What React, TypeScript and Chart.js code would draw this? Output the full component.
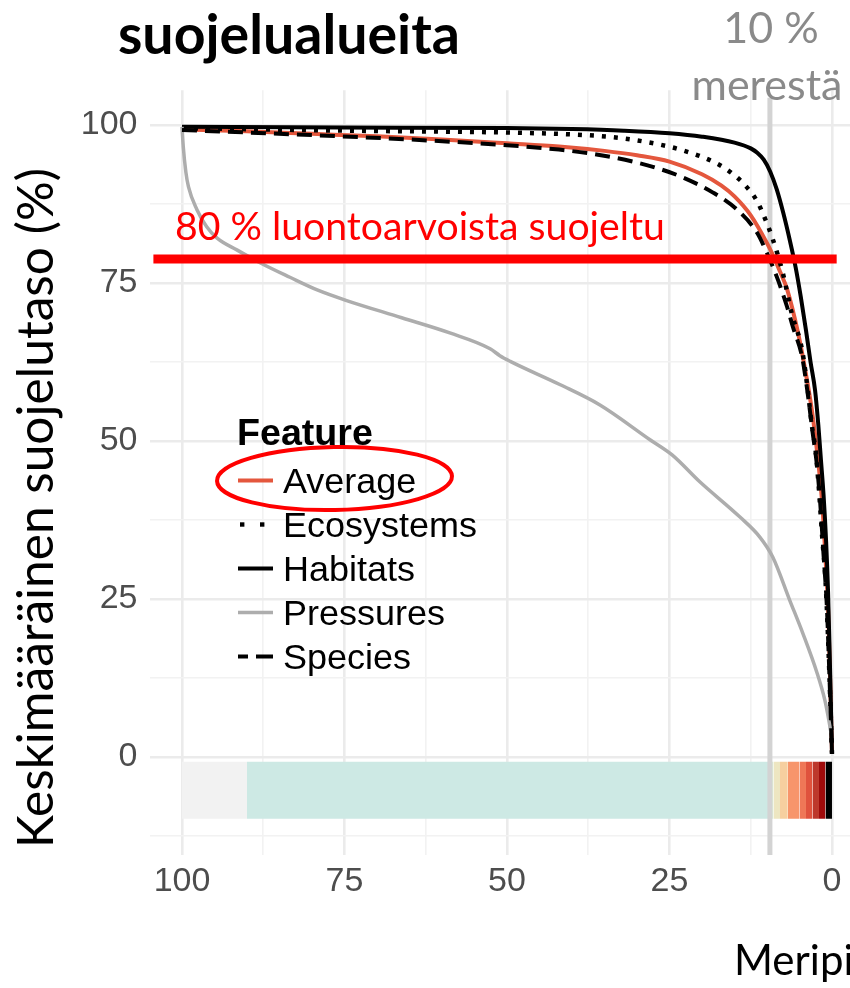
import React, { useEffect, useRef } from 'react';
import { Chart, registerables } from 'chart.js';

Chart.register(...registerables);

// ---------- data ----------
const seriesNames = ['Average', 'Ecosystems', 'Habitats', 'Pressures', 'Species'];

const averageX = [100, 90, 80, 70, 60, 50, 42, 35, 30, 25, 20, 17, 15, 12.5, 10, 9, 8, 6.9, 5.2, 4.2, 3.1, 2.1, 1.5, 1.0, 0.6, 0.3, 0];
const averageY = [99.3, 99.0, 98.6, 98.2, 97.7, 97.1, 96.6, 95.9, 95.2, 94.2, 92.2, 90.4, 88.7, 85.7, 81.3, 79.2, 76.8, 74.0, 67, 61.7, 54.9, 46.5, 40.0, 31.5, 23.5, 13, 0.5];

const ecosystemsX = [100, 75, 50, 40, 34, 28.5, 23, 17.7, 15.2, 13.4, 11.5, 10.6, 9.2, 7.5, 6.2, 4.6, 3.7, 3.1, 2.5, 2.0, 1.45, 1.1, 0.8, 0.4, 0];
const ecosystemsY = [99.5, 99.1, 98.8, 98.5, 98.1, 97.3, 96.0, 93.9, 92.2, 90.5, 87.9, 85.9, 82.2, 76.3, 70.2, 64.4, 57.8, 52.5, 48.3, 42.2, 34.0, 29.6, 23.7, 13, 0.5];

const habitatsX = [100, 75, 50, 40, 32, 25, 20, 15, 12.5, 11.5, 10.5, 9.5, 8.5, 7.5, 6.5, 5.6, 4.8, 4.0, 3.3, 2.6, 2.1, 1.7, 1.3, 0.9, 0.6, 0.3, 0];
const habitatsY = [99.7, 99.6, 99.5, 99.35, 99.1, 98.7, 98.15, 97.2, 96.3, 95.6, 94.5, 92.6, 89.8, 86.1, 81.8, 77.5, 72.8, 67.5, 62.5, 58, 52.5, 47, 41.5, 34, 26, 14, 0.5];

const pressuresX = [100, 99.8, 99.4, 99, 97.7, 96.2, 94.6, 91.5, 88, 83.4, 79.2, 74.9, 66.2, 58.8, 52.6, 51.1, 49.5, 41.8, 35.7, 28, 24.6, 20.3, 14.2, 11.1, 9.1, 6.5, 4.5, 2.3, 1.1, 0.5, 0.15];
const pressuresY = [99.7, 96.5, 92.5, 90.2, 86.6, 83.9, 82.1, 80.2, 78.2, 75.9, 73.9, 72.3, 69.5, 67.1, 64.6, 63.5, 62.6, 58.9, 55.7, 50.2, 47.8, 43.5, 38.0, 34.8, 31.6, 24.8, 19.6, 13.3, 9, 5.9, 3.8];

const speciesX = [100, 80, 65, 50, 42, 36, 30.6, 27, 23.4, 18.3, 14.6, 11.5, 10, 8.5, 6.9, 6.0, 4.6, 3.8, 3.0, 2.3, 1.8, 1.3, 0.8, 0.4, 0];
const speciesY = [99.2, 98.4, 97.7, 96.8, 96.1, 95.3, 94.2, 93.2, 91.9, 89.3, 86.6, 82.9, 79.7, 76.0, 71.2, 68.0, 63.3, 58.0, 51.5, 46, 40, 32, 24, 13, 0.5];

const xMajorTicks = [100, 75, 50, 25, 0];
const xMinorTicks = [87.5, 62.5, 37.5, 12.5];
const yMajorTicks = [100, 75, 50, 25, 0];
const yMinorTicks = [87.5, 62.5, 37.5, 12.5, -12.5];

// colour strip below the curves
const stripBreaks = [100, 90, 9.8, 9, 8, 6.8, 5, 4, 3, 2, 1, 0];
const stripColors = ['#f2f2f2', '#cde9e4', '#dcecd3', '#ede6c1', '#f6cf9f', '#f7956b', '#ef7757', '#e0523d', '#bd382c', '#a00b0b', '#000000'];
const stripTop = -0.75;
const stripBottom = -9.75;

// reference lines
const targetLevel = 78.8;
const targetLineX = [104.4, -0.72];
const seaShare = 9.55;
const seaLineY = [-15.5, 104.3];

// texts
const titleText = 'suojelualueita';
const seaText1 = '10 %';
const seaText2 = 'merestä';
const targetText = '80 % luontoarvoista suojeltu';
const yTitleText = 'Keskimääräinen suojelutaso (%)';
const xTitleText = 'Meripi';
const legendTitle = 'Feature';

// ---------- styles ----------
const seriesStyle: Record<string, { color: string; width: number; dash: number[] }> = {
  Average: { color: '#e4573d', width: 4, dash: [] },
  Ecosystems: { color: '#000000', width: 4.5, dash: [4, 8] },
  Habitats: { color: '#000000', width: 4, dash: [] },
  Pressures: { color: '#adadad', width: 3.5, dash: [] },
  Species: { color: '#000000', width: 4, dash: [15, 8] },
};
const seriesOrder: Record<string, number> = { Average: 5, Ecosystems: 4, Habitats: 3, Pressures: 2, Species: 1 };

const seriesData: Record<string, [number[], number[]]> = {
  Average: [averageX, averageY],
  Ecosystems: [ecosystemsX, ecosystemsY],
  Habitats: [habitatsX, habitatsY],
  Pressures: [pressuresX, pressuresY],
  Species: [speciesX, speciesY],
};

const TEXT_FONT = 'Lato, "Open Sans", sans-serif';
const AXIS_FONT = '"Liberation Sans", Arial, sans-serif';

function fitSize(ctx: CanvasRenderingContext2D, text: string, weight: string, family: string, target: number) {
  ctx.font = `${weight} 100px ${family}`;
  const w = ctx.measureText(text).width;
  return (100 * target) / w;
}

function drawFitted(ctx: CanvasRenderingContext2D, text: string, weight: string, family: string, target: number, x: number, y: number, color: string) {
  const size = fitSize(ctx, text, weight, family, target);
  ctx.font = `${weight} ${size}px ${family}`;
  ctx.fillStyle = color;
  ctx.textAlign = 'left';
  ctx.textBaseline = 'alphabetic';
  ctx.fillText(text, x, y);
  return size;
}

function drawCentered(ctx: CanvasRenderingContext2D, text: string, weight: string, family: string, size: number, cx: number, y: number, color: string) {
  ctx.font = `${weight} ${size}px ${family}`;
  ctx.fillStyle = color;
  ctx.textAlign = 'center';
  ctx.textBaseline = 'alphabetic';
  ctx.fillText(text, cx, y);
}

const overlayPlugin = {
  id: 'overlayTexts',
  afterDraw(chart: any) {
    const ctx: CanvasRenderingContext2D = chart.ctx;
    ctx.save();
    // title
    drawFitted(ctx, titleText, '700', TEXT_FONT, 342, 118, 54, '#000000');
    // sea share label
    drawCentered(ctx, seaText1, '400', TEXT_FONT, 43, 771, 43, '#8a8a8a');
    drawCentered(ctx, seaText2, '400', TEXT_FONT, 43, 767, 100, '#8a8a8a');
    // target label
    drawFitted(ctx, targetText, '400', TEXT_FONT, 490, 175, 240, '#ff0000');
    // y title (rotated)
    const ySize = fitSize(ctx, yTitleText, '400', TEXT_FONT, 680);
    ctx.save();
    ctx.translate(53, 848);
    ctx.rotate(-Math.PI / 2);
    ctx.font = `400 ${ySize}px ${TEXT_FONT}`;
    ctx.fillStyle = '#000000';
    ctx.textAlign = 'left';
    ctx.textBaseline = 'alphabetic';
    ctx.fillText(yTitleText, 0, 0);
    ctx.restore();
    // x title (cut at the edge)
    ctx.font = `400 42px ${TEXT_FONT}`;
    ctx.fillStyle = '#000000';
    ctx.textAlign = 'left';
    ctx.textBaseline = 'alphabetic';
    ctx.fillText(xTitleText, 734, 975);

    // legend
    drawFitted(ctx, legendTitle, '700', AXIS_FONT, 136, 237, 445, '#000000');
    const itemSize = fitSize(ctx, 'Ecosystems', '400', AXIS_FONT, 194);
    const baseY = 493;
    const step = 44;
    seriesNames.forEach((name, i) => {
      const by = baseY + i * step;
      const st = seriesStyle[name];
      ctx.font = `400 ${itemSize}px ${AXIS_FONT}`;
      ctx.fillStyle = '#000000';
      ctx.textAlign = 'left';
      ctx.textBaseline = 'alphabetic';
      ctx.fillText(name, 283, by);
      const ky = by - 12.5;
      ctx.strokeStyle = st.color;
      ctx.lineWidth = st.width;
      ctx.lineCap = 'butt';
      if (name === 'Ecosystems') {
        ctx.fillStyle = st.color;
        ctx.fillRect(240, ky - 2.2, 4.4, 4.4);
        ctx.fillRect(260, ky - 2.2, 4.4, 4.4);
      } else if (name === 'Species') {
        ctx.beginPath();
        ctx.moveTo(238, ky);
        ctx.lineTo(248, ky);
        ctx.moveTo(256, ky);
        ctx.lineTo(273, ky);
        ctx.stroke();
      } else {
        ctx.beginPath();
        ctx.moveTo(238, ky);
        ctx.lineTo(273, ky);
        ctx.stroke();
      }
    });
    // highlight ellipse
    ctx.beginPath();
    ctx.ellipse(334.5, 478.5, 117.5, 31.5, -0.02, 0, Math.PI * 2);
    ctx.strokeStyle = '#ff0000';
    ctx.lineWidth = 4;
    ctx.stroke();
    ctx.restore();
  },
};

export default function App() {
  const ref = useRef<HTMLCanvasElement | null>(null);
  useEffect(() => {
    const canvas = ref.current;
    if (!canvas) return;
    const datasets: any[] = [];
    // colour strip
    for (let i = 0; i < stripColors.length; i++) {
      datasets.push({
        label: 'strip' + i,
        data: [
          { x: stripBreaks[i], y: stripTop },
          { x: stripBreaks[i + 1], y: stripTop },
        ],
        borderWidth: 0,
        borderColor: 'rgba(0,0,0,0)',
        backgroundColor: stripColors[i],
        fill: { value: stripBottom },
        pointRadius: 0,
        order: 20,
      });
    }
    // sea share vertical line
    datasets.push({
      label: 'sea',
      data: seaLineY.map((y) => ({ x: seaShare, y })),
      borderColor: '#d3d3d3',
      borderWidth: 5,
      pointRadius: 0,
      fill: false,
      order: 10,
    });
    // series
    seriesNames.forEach((name) => {
      const [xs, ys] = seriesData[name];
      const st = seriesStyle[name];
      datasets.push({
        label: name,
        data: xs.map((x, i) => ({ x, y: ys[i] })),
        borderColor: st.color,
        borderWidth: st.width,
        borderDash: st.dash,
        cubicInterpolationMode: 'monotone',
        pointRadius: 0,
        fill: false,
        order: seriesOrder[name],
      });
    });
    // target horizontal line
    datasets.push({
      label: 'target',
      data: targetLineX.map((x) => ({ x, y: targetLevel })),
      borderColor: '#ff0000',
      borderWidth: 9,
      pointRadius: 0,
      fill: false,
      order: 0,
    });

    const isMajorX = (v: number) => xMajorTicks.includes(v);
    const isMajorY = (v: number) => yMajorTicks.includes(v);

    const chart = new Chart(canvas, {
      type: 'line',
      data: { datasets },
      options: {
        animation: false,
        responsive: false,
        maintainAspectRatio: false,
        devicePixelRatio: 1,
        layout: { padding: { top: 90.2, left: 0, right: 0, bottom: 0 } },
        plugins: {
          legend: { display: false },
          tooltip: { enabled: false },
          title: { display: false },
        },
        elements: { point: { radius: 0 } },
        scales: {
          x: {
            type: 'linear',
            reverse: true,
            min: -2.77,
            max: 105,
            border: { display: false },
            grid: {
              drawTicks: false,
              color: (c: any) => (c.tick && isMajorX(c.tick.value) ? '#ebebeb' : '#f2f2f2'),
              lineWidth: (c: any) => (c.tick && isMajorX(c.tick.value) ? 2.6 : 1.6),
            },
            ticks: {
              autoSkip: false,
              maxRotation: 0,
              minRotation: 0,
              padding: 6,
              color: '#4d4d4d',
              font: { family: AXIS_FONT, size: 34 },
              callback: (v: any) => (isMajorX(Number(v)) ? String(v) : ''),
            },
            afterBuildTicks: (s: any) => {
              s.ticks = [...xMajorTicks, ...xMinorTicks].sort((a, b) => a - b).map((v) => ({ value: v }));
            },
            afterFit: (s: any) => {
              s.height = 133;
              s.paddingLeft = 0;
              s.paddingRight = 0;
              s.paddingTop = 0;
              s.paddingBottom = 0;
            },
          },
          y: {
            type: 'linear',
            min: -15.5,
            max: 105.5,
            border: { display: false },
            grid: {
              drawTicks: false,
              color: (c: any) => (c.tick && isMajorY(c.tick.value) ? '#ebebeb' : '#f2f2f2'),
              lineWidth: (c: any) => (c.tick && isMajorY(c.tick.value) ? 2.6 : 1.6),
            },
            ticks: {
              autoSkip: false,
              padding: 12,
              color: '#4d4d4d',
              font: { family: AXIS_FONT, size: 34 },
              callback: (v: any) => (isMajorY(Number(v)) ? String(v) : ''),
            },
            afterBuildTicks: (s: any) => {
              s.ticks = [...yMajorTicks, ...yMinorTicks].sort((a, b) => a - b).map((v) => ({ value: v }));
            },
            afterFit: (s: any) => {
              s.width = 149.5;
              s.paddingLeft = 0;
              s.paddingRight = 0;
              s.paddingTop = 0;
              s.paddingBottom = 0;
            },
          },
        },
      },
      plugins: [overlayPlugin],
    } as any);
    return () => chart.destroy();
  }, []);

  return (
    <div style={{ position: 'absolute', left: 0, top: 0, width: 850, height: 988, background: '#ffffff' }}>
      <canvas ref={ref} width={850} height={988} style={{ display: 'block', width: 850, height: 988 }} />
    </div>
  );
}
